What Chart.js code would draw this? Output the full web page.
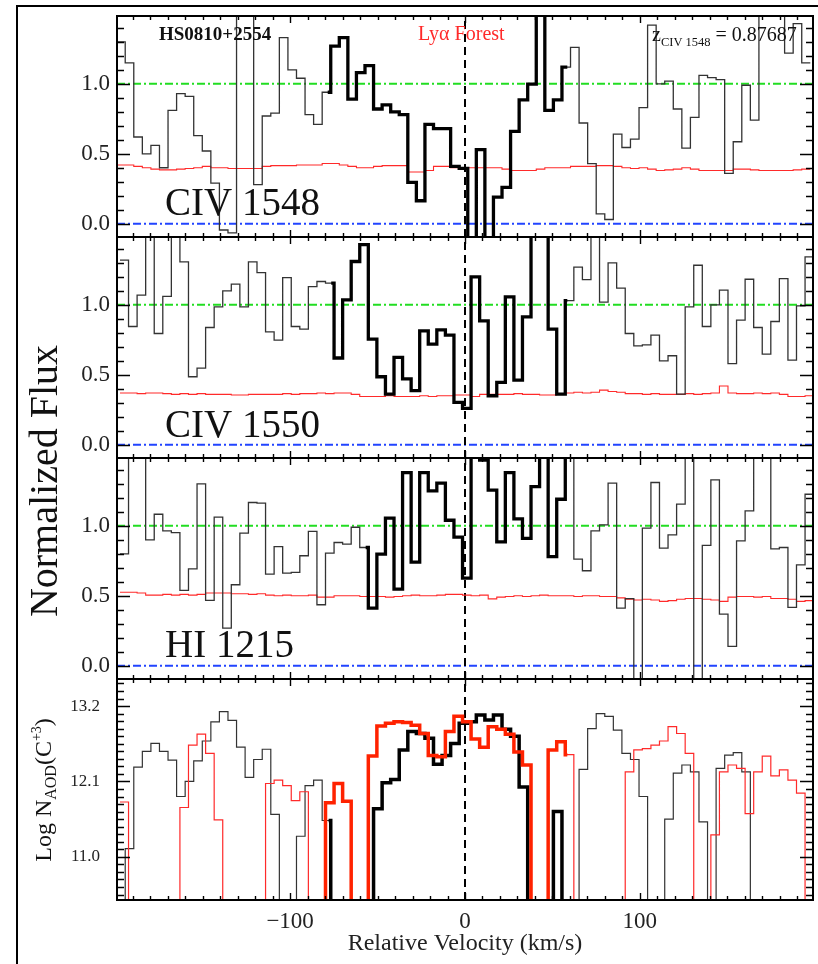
<!DOCTYPE html>
<html>
<head>
<meta charset="utf-8">
<script src="https://cdn.jsdelivr.net/npm/chart.js@4.4.1/dist/chart.umd.min.js"></script>
<style>
  html, body { margin: 0; padding: 0; background: #fff; }
  #fig { position: relative; width: 818px; height: 964px; overflow: hidden; background: #fff; }
  #fig canvas { position: absolute; left: 0; top: 0; }
</style>
</head>
<body>
<div id="fig">
  <canvas id="pC1548" width="818" height="964"></canvas>
  <canvas id="pC1550" width="818" height="964"></canvas>
  <canvas id="pH1215" width="818" height="964"></canvas>
  <canvas id="pAOD" width="818" height="964"></canvas>
</div>
<script>
// ---------------------------------------------------------------
// HS0810+2554, CIV absorber at z = 0.87687: velocity stack
// ---------------------------------------------------------------
const VEL_RANGE = [-199, 199];          // km/s
const BIN_WIDTH = 4.897;                // km/s per spectral pixel
const START_1548 = -199.2;              // left edge of first CIV 1548 pixel
const START_1550 = -197.3;              // left edge of first CIV 1550 pixel
const START_1215 = -197.3;              // left edge of first HI 1215 pixel

// velocity windows over which the absorption component is highlighted
const WIN_1548 = [-78.5, 58.5];
const WIN_1550 = [-76.5, 58.5];
const WIN_1215 = [-56.8, 58.5];
const WIN_AOD_1548 = [-78, 57.5];
const WIN_AOD_1550 = [-80.5, 58.5];

// normalized flux per pixel
const FLUX_1548 = [1.30, 1.15, 0.62, 0.50, 0.56, 0.40, 0.81, 0.93, 0.91, 0.63,
  0.52, 0.29, -0.045, -0.066, 1.6, 1.6, 0.28, 0.77, 0.79, 1.33,
  1.10, 1.04, 0.78, 0.71, 0.94, 1.27, 1.33, 0.89, 1.08, 1.13,
  0.82, 0.85, 0.80, 0.78, 0.295, 0.164, 0.71, 0.68, 0.68, 0.41,
  0.395, -0.2, 0.53, -0.2, 0.19, 0.26, 0.66, 0.886, 0.998, 1.6,
  0.81, 0.886, 1.12, 1.26, 0.72, 0.43, 0.07, 0.03, 0.64, 0.545,
  0.605, 0.83, 1.42, 1.0, 1.02, 0.82, 0.54, 0.76, 1.06, 1.045,
  1.03, 0.36, 0.586, 0.99, 0.74, 1.6, 1.6, 1.6, 1.22, 1.43, 1.15];
const ERR_1548 = [0.42, 0.42, 0.41, 0.40, 0.39, 0.385, 0.385, 0.39, 0.395, 0.40,
  0.41, 0.40, 0.40, 0.395, 0.395, 0.395, 0.395, 0.41, 0.415, 0.415,
  0.415, 0.42, 0.42, 0.42, 0.43, 0.43, 0.42, 0.41, 0.40, 0.40,
  0.41, 0.415, 0.415, 0.415, 0.37, 0.37, 0.38, 0.41, 0.41, 0.40,
  0.40, 0.40, 0.40, 0.40, 0.40, 0.39, 0.38, 0.38, 0.38, 0.39,
  0.40, 0.40, 0.40, 0.41, 0.41, 0.41, 0.415, 0.415, 0.41, 0.40,
  0.395, 0.40, 0.39, 0.38, 0.385, 0.39, 0.40, 0.39, 0.38, 0.38,
  0.38, 0.38, 0.39, 0.39, 0.385, 0.38, 0.38, 0.38, 0.38, 0.385, 0.39];

const FLUX_1550 = [1.32, 0.845, 1.07, 1.6, 0.795, 1.06, 1.6, 1.307, 0.486, 0.548,
  0.838, 0.986, 1.10, 1.148, 0.986, 1.307, 1.23, 0.807, 0.748, 1.195,
  0.845, 0.826, 1.13, 1.167, 1.155, 0.62, 1.036, 1.31, 1.43, 0.755,
  0.486, 0.362, 0.624, 0.47, 0.386, 0.814, 0.719, 0.821, 0.783, 0.302,
  0.26, 1.20, 0.886, 0.35, 0.445, 1.057, 0.462, 0.914, 1.6, 1.6,
  0.826, 0.362, 1.03, 1.27, 1.18, 1.6, 1.02, 1.30, 1.12, 0.795,
  0.707, 0.714, 0.783, 0.60, 0.636, 0.362, 0.986, 1.283, 0.845, 1.0,
  1.105, 0.58, 0.89, 1.183, 0.838, 0.648, 0.881, 1.188, 0.605, 0.993, 1.343];
const ERR_1550 = [0.37, 0.37, 0.365, 0.37, 0.37, 0.365, 0.36, 0.365, 0.36, 0.365,
  0.36, 0.36, 0.36, 0.355, 0.355, 0.36, 0.36, 0.36, 0.36, 0.365,
  0.36, 0.365, 0.365, 0.37, 0.365, 0.37, 0.37, 0.36, 0.345, 0.345,
  0.345, 0.35, 0.345, 0.345, 0.345, 0.35, 0.345, 0.35, 0.35, 0.355,
  0.355, 0.345, 0.36, 0.36, 0.36, 0.36, 0.365, 0.36, 0.36, 0.355,
  0.355, 0.36, 0.37, 0.375, 0.37, 0.375, 0.39, 0.38, 0.375, 0.365,
  0.365, 0.36, 0.365, 0.36, 0.36, 0.36, 0.365, 0.36, 0.365, 0.37,
  0.42, 0.37, 0.365, 0.365, 0.37, 0.365, 0.37, 0.36, 0.345, 0.345, 0.35];

const FLUX_1215 = [0.80, 1.6, 1.6, 0.90, 1.083, 0.964, 0.952, 0.538, 0.693, 1.30,
  0.467, 1.062, 0.269, 0.579, 0.948, 1.167, 1.162, 0.655, 0.852, 0.662,
  0.667, 0.786, 0.96, 0.436, 0.805, 0.881, 0.869, 0.99, 0.845, 0.412,
  0.798, 1.055, 0.548, 1.38, 0.74, 1.38, 1.25, 1.305, 1.04, 0.92,
  0.626, 1.6, 1.47, 1.255, 0.885, 1.38, 1.05, 0.91, 1.28, 1.6,
  0.78, 1.19, 1.6, 0.762, 0.679, 0.964, 1.007, 1.305, 0.412, 0.479,
  -0.3, 0.983, 1.31, 0.84, 0.936, 1.155, 1.6, -0.3, 0.86, 1.329,
  0.369, 0.138, 0.893, 1.107, 1.6, 1.6, 0.836, 0.845, 0.417, 0.721, 1.226];
const ERR_1215 = [0.525, 0.525, 0.52, 0.505, 0.505, 0.51, 0.505, 0.51, 0.505, 0.51,
  0.52, 0.52, 0.52, 0.515, 0.515, 0.51, 0.515, 0.505, 0.50, 0.505,
  0.50, 0.50, 0.505, 0.49, 0.49, 0.50, 0.50, 0.50, 0.495, 0.495,
  0.495, 0.49, 0.495, 0.50, 0.505, 0.50, 0.50, 0.505, 0.51, 0.51,
  0.505, 0.50, 0.505, 0.478, 0.49, 0.495, 0.50, 0.495, 0.50, 0.505,
  0.50, 0.50, 0.50, 0.495, 0.50, 0.50, 0.495, 0.495, 0.485, 0.475,
  0.47, 0.475, 0.47, 0.46, 0.465, 0.475, 0.48, 0.48, 0.475, 0.47,
  0.46, 0.49, 0.495, 0.495, 0.49, 0.495, 0.48, 0.48, 0.475, 0.46, 0.465];

// apparent optical depth column density, log N(C+3) per pixel (null = no measurement)
const LOGN_1548 = [null, 11.12, 12.31, 12.54, 12.655, 12.54, 12.41, 11.88, 12.10, 12.40,
  12.69, 12.97, 13.12, 12.99, 12.60, 12.16, 12.42, 12.57, 11.62, null,
  null, 11.30, 12.04, 12.12, 11.53, null, null, null, null, null,
  11.70, 12.08, 12.13, 12.56, 12.83, 12.80, 12.73, 12.35, 12.48, 12.655,
  12.95, 12.97, 13.07, 12.995, 13.07, 12.86, 12.76, 12.02, null, null,
  null, 11.66, null, null, 12.275, 12.87, 13.09, 13.05, 12.85, 12.51,
  12.42, 11.88, null, null, 11.55, 12.22, 12.34, 12.24, 11.51, null,
  12.29, 12.485, 12.52, 12.24, null, null, null, null, null, null, null];
const LOGN_1550 = [11.80, null, null, null, null, null, null, 11.72, 12.63, 12.79,
  12.51, 11.54, null, null, null, null, null, 12.07, 12.12, 12.04,
  11.82, 11.95, null, null, 11.79, 12.07, 11.81, null, null, 12.47,
  12.91, 12.95, 12.97, 12.96, 12.92, 12.80, 12.48, 12.46, 12.83, 13.05,
  12.97, 12.72, 12.60, 12.90, 12.86, 12.79, 12.53, 12.34, null, null,
  12.56, 12.68, 12.49, null, null, null, null, null, null, 12.24,
  12.56, 12.58, 12.63, 12.69, 12.90, 12.80, 12.51, null, null, 11.32,
  12.24, 12.34, 12.29, 11.63, 12.24, 12.47, 12.18, 12.27, 12.12, 11.93, null];

// axis ticks
const VEL_LABEL_TICKS = [-100, 0, 100];
const FLUX_LABEL_TICKS = [0.0, 0.5, 1.0];
const LOGN_LABEL_TICKS = [11.0, 12.1, 13.2];
const FLUX_RANGE = [-0.095, 1.485];
const LOGN_RANGE = [10.37, 13.595];
const AOD_FLOOR = 9.0;   // plotted below the axis where no column is measured

// ---------------------------------------------------------------
const SERIF = "'Liberation Serif', 'DejaVu Serif', 'Times New Roman', serif";
const INK = '#111';
const FIG_W = 818, FIG_H = 964;
const PLOT_LEFT = 117, PLOT_RIGHT = 813;
const PANEL_EDGES = [16, 237, 458, 679, 900];

// histogram outline: one point per pixel left edge, plus the closing right edge
function stepPoints(start, values, floor) {
  const pts = values.map((v, i) => ({ x: start + i * BIN_WIDTH, y: v === null ? floor : v }));
  pts.push({ x: start + values.length * BIN_WIDTH, y: pts[pts.length - 1].y });
  return pts;
}
function windowPoints(start, values, win, floor) {
  const val = i => (values[i] === null || values[i] === undefined) ? floor : values[i];
  const iLo = Math.floor((win[0] - start) / BIN_WIDTH);
  const iHi = Math.floor((win[1] - start) / BIN_WIDTH);
  const pts = [{ x: win[0], y: val(iLo) }];
  for (let i = iLo + 1; i <= iHi; i++) pts.push({ x: start + i * BIN_WIDTH, y: val(i) });
  pts.push({ x: win[1], y: val(iHi) });
  return pts;
}
// 'before': each point's level is held until the next point's x
function lineSet(data, color, width, order, dash) {
  return {
    data, borderColor: color, borderWidth: width, pointRadius: 0, fill: false,
    stepped: dash ? false : 'before', borderDash: dash || [], order,
    borderJoinStyle: 'miter', borderCapStyle: 'butt'
  };
}
function refLine(y, color) {
  return lineSet([{ x: VEL_RANGE[0], y }, { x: VEL_RANGE[1], y }], color, 2, 20, [8, 3, 2, 3]);
}
function zeroLine(range) {
  return lineSet([{ x: 0, y: range[0] }, { x: 0, y: range[1] }], '#000', 2, 19, [8, 5]);
}

function drawRich(ctx, parts, x, y, rotate, align) {
  ctx.save();
  ctx.translate(x, y);
  if (rotate) ctx.rotate(-Math.PI / 2);
  ctx.textBaseline = 'alphabetic';
  ctx.textAlign = 'left';
  const fontOf = p => `${p.weight || 'normal'} ${p.size}px ${SERIF}`;
  const widths = parts.map(p => { ctx.font = fontOf(p); return ctx.measureText(p.t).width; });
  const total = widths.reduce((a, b) => a + b, 0);
  let cx = align === 'center' ? -total / 2 : 0;
  parts.forEach((p, i) => {
    ctx.font = fontOf(p);
    ctx.fillStyle = p.color || INK;
    ctx.fillText(p.t, cx, p.dy || 0);
    cx += widths[i];
  });
  ctx.restore();
}

// frame with inward ticks on all four sides
function framePlugin(yMajor, yMinorStep, yMinorBase) {
  return {
    id: 'frameTicks',
    afterDatasetsDraw(chart) {
      const { ctx, chartArea: a, scales: { x, y } } = chart;
      ctx.save();
      ctx.strokeStyle = '#000';
      ctx.lineWidth = 1.4;
      ctx.beginPath();
      for (let v = -190; v <= 190; v += 10) {
        const px = Math.round(x.getPixelForValue(v)) + 0.5;
        const len = VEL_LABEL_TICKS.includes(v) ? 7 : 4;
        ctx.moveTo(px, a.bottom); ctx.lineTo(px, a.bottom - len);
        ctx.moveTo(px, a.top); ctx.lineTo(px, a.top + len);
      }
      const ymin = y.min, ymax = y.max;
      for (let n = -40; n <= 40; n++) {
        const v = yMinorBase + n * yMinorStep;
        if (v <= ymin || v >= ymax) continue;
        const py = Math.round(y.getPixelForValue(v)) + 0.5;
        const major = yMajor.some(m => Math.abs(m - v) < 1e-6);
        const len = major ? 13 : 7;
        ctx.moveTo(a.left, py); ctx.lineTo(a.left + len, py);
        ctx.moveTo(a.right, py); ctx.lineTo(a.right - len, py);
      }
      ctx.stroke();
      ctx.lineWidth = 2;
      ctx.strokeRect(a.left, a.top, a.right - a.left, a.bottom - a.top);
      ctx.restore();
    }
  };
}

function noScalePadding(s) {
  s.paddingTop = 0; s.paddingBottom = 0; s.paddingLeft = 0; s.paddingRight = 0;
}

function panelOptions(top, bottom, yRange, yLabels, labelSize, labelPad, showX) {
  return {
    responsive: false, animation: false, devicePixelRatio: 1, events: [],
    layout: { padding: { left: PLOT_LEFT - 60, right: FIG_W - PLOT_RIGHT, top, bottom: showX ? 0 : FIG_H - bottom } },
    plugins: { legend: { display: false }, tooltip: { enabled: false } },
    scales: {
      x: {
        type: 'linear', min: VEL_RANGE[0], max: VEL_RANGE[1], display: showX,
        afterBuildTicks: s => { s.ticks = VEL_LABEL_TICKS.map(v => ({ value: v })); },
        afterFit: s => {
          noScalePadding(s);
          if (showX) s.height = FIG_H - PANEL_EDGES[4];
        },
        grid: { display: false, drawTicks: false }, border: { display: false },
        ticks: {
          autoSkip: false, maxRotation: 0, padding: 8, color: '#222',
          font: { family: SERIF, size: 23 },
          callback: v => (v < 0 ? '\u2212' + Math.abs(v) : String(v))
        },
        title: {
          display: true, text: 'Relative Velocity (km/s)', color: '#222',
          font: { family: SERIF, size: 24 }, padding: { top: 0, bottom: 6 }
        }
      },
      y: {
        type: 'linear', min: yRange[0], max: yRange[1],
        afterBuildTicks: s => { s.ticks = yLabels.map(v => ({ value: v })); },
        afterFit: s => { noScalePadding(s); s.width = 60; },
        grid: { display: false, drawTicks: false }, border: { display: false },
        ticks: { padding: labelPad, color: '#222', font: { family: SERIF, size: labelSize }, callback: v => v.toFixed(1) }
      }
    }
  };
}

function fluxPanel(id, idx, start, flux, err, win, textPlugin) {
  const datasets = [
    lineSet(windowPoints(start, flux, win, 0), '#000', 3.3, 1),
    lineSet(stepPoints(start, flux, 0), '#333', 1.3, 2),
    lineSet(stepPoints(start, err, 0), '#ff2a2a', 1.1, 3),
    zeroLine(FLUX_RANGE),
    refLine(1.0, '#22dd22'),
    refLine(0.0, '#2244ff')
  ];
  return new Chart(document.getElementById(id), {
    type: 'line',
    data: { datasets },
    options: panelOptions(PANEL_EDGES[idx], PANEL_EDGES[idx + 1], FLUX_RANGE, FLUX_LABEL_TICKS, 23, 7, false),
    plugins: [framePlugin(FLUX_LABEL_TICKS, 0.1, 0), textPlugin]
  });
}

// CIV 1548 panel, with figure border and header annotations
fluxPanel('pC1548', 0, START_1548, FLUX_1548, ERR_1548, WIN_1548, {
  id: 'txt1548',
  beforeDraw(chart) {
    const ctx = chart.ctx;
    ctx.save();
    ctx.strokeStyle = '#000';
    ctx.lineWidth = 2;
    ctx.beginPath();
    ctx.moveTo(17, FIG_H + 5); ctx.lineTo(17, 6); ctx.lineTo(FIG_W + 5, 6);
    ctx.stroke();
    ctx.restore();
  },
  afterDraw(chart) {
    const ctx = chart.ctx, a = chart.chartArea;
    drawRich(ctx, [{ t: 'HS0810+2554', size: 19, weight: 'bold' }], a.left + 42, a.top + 24);
    drawRich(ctx, [{ t: 'Ly\u03b1 Forest', size: 20, color: '#ff2a2a' }], a.left + 301, a.top + 24);
    drawRich(ctx, [
      { t: 'z', size: 20 },
      { t: 'CIV 1548', size: 12.5, dy: 5 },
      { t: ' = 0.87687', size: 20 }
    ], a.left + 535, a.top + 25);
    drawRich(ctx, [{ t: 'CIV 1548', size: 39 }], a.left + 48, a.bottom - 22);
  }
});

fluxPanel('pC1550', 1, START_1550, FLUX_1550, ERR_1550, WIN_1550, {
  id: 'txt1550',
  afterDraw(chart) {
    const ctx = chart.ctx, a = chart.chartArea;
    drawRich(ctx, [{ t: 'CIV 1550', size: 39 }], a.left + 48, a.bottom - 21);
    drawRich(ctx, [{ t: 'Normalized Flux', size: 40 }], 57, 481, true, 'center');
  }
});

fluxPanel('pH1215', 2, START_1215, FLUX_1215, ERR_1215, WIN_1215, {
  id: 'txt1215',
  afterDraw(chart) {
    const ctx = chart.ctx, a = chart.chartArea;
    drawRich(ctx, [{ t: 'HI 1215', size: 39 }], a.left + 48, a.bottom - 22);
  }
});

// apparent optical depth column density panel
new Chart(document.getElementById('pAOD'), {
  type: 'line',
  data: {
    datasets: [
      lineSet(windowPoints(START_1550, LOGN_1550, WIN_AOD_1550, AOD_FLOOR), '#ff2200', 3.5, 1),
      lineSet(windowPoints(START_1548, LOGN_1548, WIN_AOD_1548, AOD_FLOOR), '#000', 3.5, 2),
      lineSet(stepPoints(START_1550, LOGN_1550, AOD_FLOOR), '#ff2a2a', 1.2, 3),
      lineSet(stepPoints(START_1548, LOGN_1548, AOD_FLOOR), '#333', 1.2, 4),
      zeroLine(LOGN_RANGE)
    ]
  },
  options: panelOptions(PANEL_EDGES[3], PANEL_EDGES[4], LOGN_RANGE, LOGN_LABEL_TICKS, 17, 17, true),
  plugins: [framePlugin(LOGN_LABEL_TICKS, 0.11, 13.2), {
    id: 'txtAOD',
    afterDraw(chart) {
      drawRich(chart.ctx, [
        { t: 'Log N', size: 24 },
        { t: 'AOD', size: 16, dy: 5 },
        { t: '(C', size: 24 },
        { t: '+3', size: 14, dy: -10 },
        { t: ')', size: 24 }
      ], 51, 790, true, 'center');
    }
  }]
});
</script>
</body>
</html>
